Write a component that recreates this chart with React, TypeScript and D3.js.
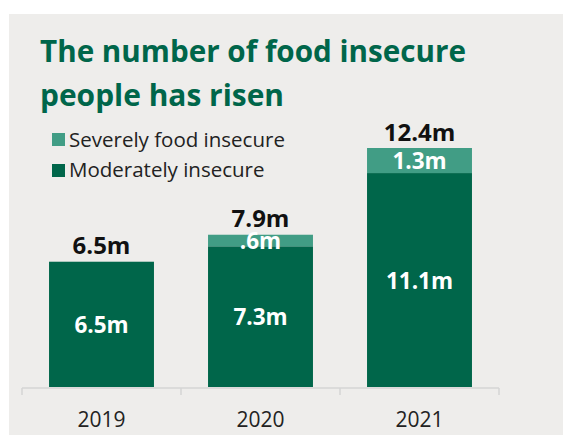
import React from "react";
import * as d3 from "d3";

const years = ["2019", "2020", "2021"];
const moderate = [6.5, 7.3, 11.1];
const severe = [0, 0.6, 1.3];
const totals = ["6.5m", "7.9m", "12.4m"];
const moderateLabels = ["6.5m", "7.3m", "11.1m"];
const severeLabels = ["", ".6m", "1.3m"];
const titleLines = ["The number of food insecure", "people has risen"];
const legendItems = ["Severely food insecure", "Moderately insecure"];

const W = 563, H = 435;
const DARK = "#00664a";
const LIGHT = "#419d85";
const BG = "#eeedeb";
const FONT = "'Open Sans', 'Noto Sans', sans-serif";
const titleWidths = [426, 244];

export default function App() {
  const x = d3.scaleBand<string>().domain(years).range([22, 499]).paddingInner(0.34).paddingOuter(0.17);
  const y = d3.scaleLinear().domain([0, 12.4]).range([387, 148]);
  const data = years.map((yr, i) => ({ yr, m: moderate[i], s: severe[i] }));
  const stack = d3.stack<any>().keys(["m", "s"])(data as any);
  return (
    <svg width={W} height={H} style={{ position: "absolute", left: 0, top: 0 }}>
      <rect x={9} y={14} width={W - 9} height={H - 14} fill={BG} />
      {titleLines.map((t, i) => (
        <text key={t} x={40} y={62 + i * 44} fontFamily={FONT} fontWeight={700} fontSize={31} fill={DARK}
          textLength={titleWidths[i]} lengthAdjust="spacingAndGlyphs">{t}</text>
      ))}
      {legendItems.map((t, i) => (
        <g key={t}>
          <rect x={52} y={133 + i * 31} width={13} height={13} fill={i === 0 ? LIGHT : DARK} />
          <text x={69} y={146.5 + i * 30} fontFamily={FONT} fontSize={20.5} fill="#222">{t}</text>
        </g>
      ))}
      {stack.map((layer, li) =>
        layer.map((d, i) => {
          const h = y(d[0]) - y(d[1]);
          if (h <= 0) return null;
          return (
            <rect key={li + "-" + i} x={x(years[i])} y={y(d[1])} width={x.bandwidth()} height={h} fill={li === 0 ? DARK : LIGHT} />
          );
        })
      )}
      {years.map((yr, i) => {
        const cx = (x(yr) as number) + x.bandwidth() / 2;
        const top = moderate[i] + severe[i];
        return (
          <g key={yr}>
            <text x={cx} y={y(top) - 7.5} textAnchor="middle" fontFamily={FONT} fontWeight={700} fontSize={24} fill="#111">{totals[i]}</text>
            <text x={cx} y={(y(0) + y(moderate[i])) / 2 + 8.5} textAnchor="middle" fontFamily={FONT} fontWeight={700} fontSize={22.5} fill="#fff">{moderateLabels[i]}</text>
            {severeLabels[i] && (
              <text x={cx} y={(y(moderate[i]) + y(top)) / 2 + 8.5} textAnchor="middle" fontFamily={FONT} fontWeight={700} fontSize={22.5} fill="#fff">{severeLabels[i]}</text>
            )}
            <text x={cx} y={427} textAnchor="middle" fontFamily={FONT} fontSize={21} fill="#222">{yr}</text>
          </g>
        );
      })}
      <line x1={22} x2={499} y1={388} y2={388} stroke="#d4d4d4" strokeWidth={1.5} />
      {[0, 1, 2, 3].map((k) => {
        const tx = 22 + k * x.step();
        return <line key={k} x1={tx} x2={tx} y1={388} y2={395} stroke="#d4d4d4" strokeWidth={1.5} />;
      })}
    </svg>
  );
}
